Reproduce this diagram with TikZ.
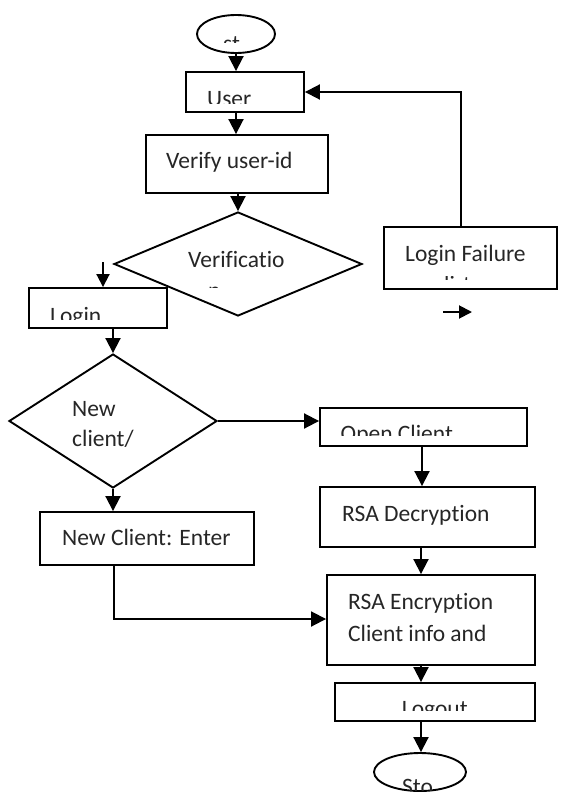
\documentclass[tikz,border=0pt]{standalone}
\usepackage{fontspec}
\setmainfont{Carlito}[Ligatures=NoCommon]
\usetikzlibrary{shapes.geometric,arrows.meta}
\begin{document}
\begin{tikzpicture}[x=1pt,y=-1pt,
  box/.style={draw,line width=1.9pt,inner sep=0pt,rectangle},
  oval/.style={draw,line width=1.9pt,inner sep=0pt,ellipse},
  decision/.style={draw,line width=1.9pt,inner sep=0pt,diamond},
  arr/.style={line width=1.9pt,-{Triangle[length=15pt,width=15pt]}},
  smallarr/.style={line width=1.9pt,-{Triangle[length=13pt,width=13pt]}},
  txt/.style={anchor=base west,inner sep=0pt,text=black!85,font=\fontsize{23.5}{31}\selectfont}]

% page
\clip (0,0) rectangle (565,792);
\fill[white] (0,0) rectangle (565,792);

% shapes
\node[oval,minimum width=78pt,minimum height=38pt] (start) at (236,34) {};
\node[box,minimum width=118pt,minimum height=40pt] (user) at (245,92) {};
\node[box,minimum width=182pt,minimum height=58pt] (verify) at (237,164) {};
\node[decision,minimum width=248pt,minimum height=104pt] (vdec) at (238,264) {};
\node[box,minimum width=138pt,minimum height=40pt] (login) at (98,308) {};
\node[box,minimum width=173pt,minimum height=62pt] (fail) at (470.5,258) {};
\node[decision,minimum width=208pt,minimum height=134pt] (ndec) at (113,421) {};
\node[box,minimum width=207pt,minimum height=38pt] (open) at (423.5,427) {};
\node[box,minimum width=215pt,minimum height=60pt] (decr) at (427.5,517) {};
\node[box,minimum width=214pt,minimum height=53pt] (newc) at (147,538.5) {};
\node[box,minimum width=208pt,minimum height=90pt] (encr) at (431,620) {};
\node[box,minimum width=200pt,minimum height=38pt] (logout) at (435,702) {};
\node[oval,minimum width=92pt,minimum height=38pt] (stop) at (420,772) {};

% labels (several are cut off by their boxes)
\begin{scope}
  \clip (200,20) rectangle (275,42.7);
  \node[txt] (tstart) at (223,51.5) {st};
\end{scope}
\begin{scope}
  \clip (190,75) rectangle (300,103.3);
  \node[txt] (tuser) at (207,106.7) {User};
\end{scope}
\node[txt] (tverify) at (166,168.3) {Verify user-id};
\node[txt] (tvdec) at (188,267.3) {Verificatio};
\begin{scope}
  \clip (200,285.3) rectangle (230,287.8);
  \node[txt] (tvdec2) at (208,298.3) {n};
\end{scope}
\begin{scope}
  \clip (35,290) rectangle (160,319.3);
  \node[txt] (tlogin) at (50,323.5) {Login};
\end{scope}
\node[txt] (tfail) at (405,261) {Login Failure};
\begin{scope}
  \clip (390,276.8) rectangle (550,279.3);
  \node[txt] (tfail2) at (437,292) {dirt};
\end{scope}
\node[txt] (tnew1) at (72,416.7) {New};
\node[txt] (tnew2) at (72,446) {client/};
\begin{scope}
  \clip (325,410) rectangle (520,435);
  \node[txt] (topen) at (340.5,441.7) {Open Client};
\end{scope}
\node[txt] (tdecr) at (342,521) {RSA Decryption};
\node[txt] (tnewc) at (62,545.7) {New Client: Enter};
\node[txt] (tencr1) at (348,609.3) {RSA Encryption};
\node[txt] (tencr2) at (348,641) {Client info and};
\begin{scope}
  \clip (340,686) rectangle (530,710.7);
  \node[txt] (tlogout) at (401.7,716.7) {Logout};
\end{scope}
\begin{scope}
  \clip (380,756) rectangle (460,790);
  \node[txt] (tstop) at (402,794) {Sto};
\end{scope}

% connector bends and loose ends
\coordinate (fbk) at (461,92);
\coordinate (lin) at (103,262);
\coordinate (sa1) at (443,312);
\coordinate (sa2) at (472,312);
\coordinate (rx) at (421,0);
\coordinate (bend) at (114,619);

% connectors
\draw[arr] (start.south) -- (user.north -| start.south);
\draw[arr] (user.south -| start.south) -- (verify.north -| start.south);
\draw[arr] (verify.south -| vdec.north) -- (vdec.north);
\draw[arr] (fail.north -| fbk) -- (fbk) -- (user.east |- fbk);
\draw[smallarr] (lin) -- (login.north -| lin);
\draw[arr] (login.south -| ndec.north) -- (ndec.north);
\draw[arr] (ndec.east) -- (open.west |- ndec.east);
\draw[arr] (ndec.south) -- (newc.north -| ndec.south);
\draw[arr] (open.south -| 422,0) -- (decr.north -| 422,0);
\draw[arr] (decr.south -| rx) -- (encr.north -| rx);
\draw[arr] (encr.south -| rx) -- (logout.north -| rx);
\draw[arr] (logout.south -| rx) -- (stop.north -| rx);
\draw[arr] (newc.south -| bend) -- (bend) -- (encr.west |- bend);
\draw[smallarr] (sa1) -- (sa2);
\end{tikzpicture}
\end{document}
